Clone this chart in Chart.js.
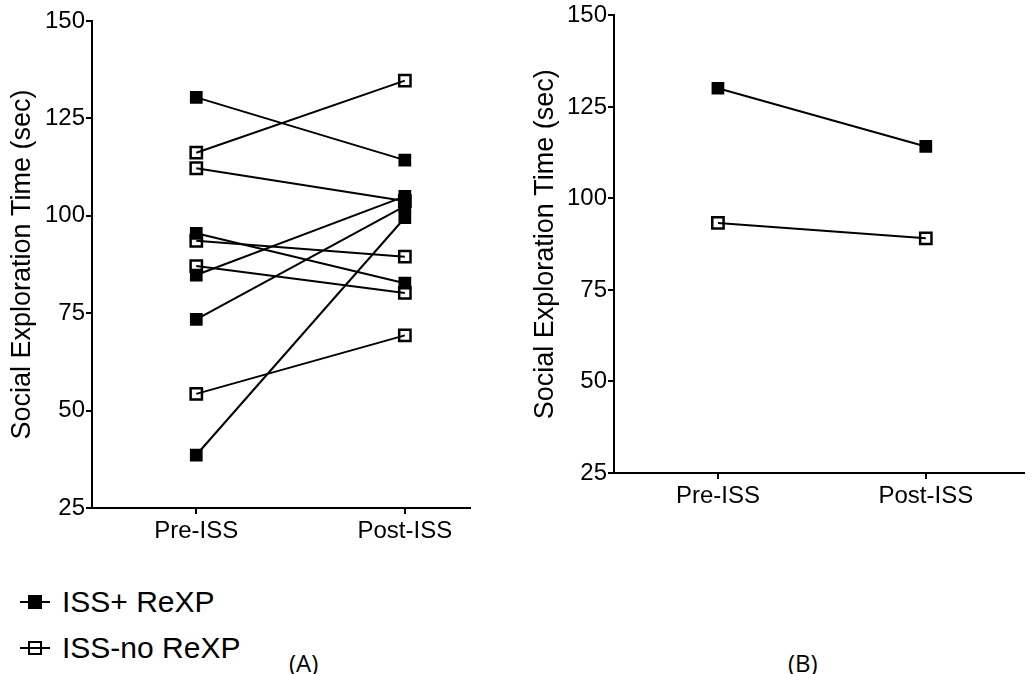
<!DOCTYPE html>
<html>
<head>
<meta charset="utf-8">
<script src="https://cdn.jsdelivr.net/npm/chart.js@4.4.1/dist/chart.umd.min.js"></script>
<style>
  body { margin: 0; background: #fff; width: 1034px; height: 674px; position: relative; overflow: hidden;
         font-family: 'Liberation Sans', Arial, sans-serif; }
  .box { position: absolute; top: 0; }
  .leg { position: absolute; left: 20px; height: 30px; font-size: 30px; line-height: 30px; color: #000; }
  .mk { position: absolute; left: 0; top: 14px; width: 30px; height: 2px; background: #000; }
  .mk span { position: absolute; left: 8px; top: -6px; width: 14px; height: 14px; box-sizing: border-box; }
  .leg .txt { position: absolute; left: 42px; top: 0; white-space: nowrap; }
  .tag { position: absolute; top: 646px; font-size: 24px; font-family: 'Open Sans', sans-serif; }
</style>
</head>
<body>
<div class="box" style="left:0;width:480px;height:560px"><canvas id="chartA"></canvas></div>
<div class="box" style="left:520px;width:514px;height:525px"><canvas id="chartB"></canvas></div>

<div class="leg" style="top:587px"><div class="mk"><span style="background:#000"></span></div><div class="txt">ISS+ ReXP</div></div>
<div class="leg" style="top:633px"><div class="mk"><span style="border:2.5px solid #000;background:transparent"></span></div><div class="txt">ISS-no ReXP</div></div>
<div class="tag" style="left:289px">(A)</div>
<div class="tag" style="left:788px">(B)</div>

<script>
// categories on the x axis
const timepoints = ['Pre-ISS', 'Post-ISS'];

// panel A: individual animals
const rexpPre  = [130.4, 95.5, 84.8, 73.4, 38.6];
const rexpPost = [114.3, 82.7, 105.0, 102.5, 99.5];
const noRexpPre  = [116.2, 112.2, 93.6, 87.1, 54.3];
const noRexpPost = [134.7, 103.8, 89.5, 80.2, 69.3];

// panel B: group values
const rexpGroup   = [130.1, 114.2];
const noRexpGroup = [93.3, 89.1];

const yTicks = [25, 50, 75, 100, 125, 150];

Chart.defaults.font.family = "'Liberation Sans', Arial, sans-serif";
Chart.defaults.color = '#000';

const tickFont = { size: 24 };

function pair(pre, post) {
    return [{ x: 1, y: pre }, { x: 2, y: post }];
}

function filledSet(data) {
    return {
        data: data,
        borderColor: '#000',
        borderWidth: 2,
        pointStyle: 'rect',
        pointRadius: 9,
        pointBackgroundColor: '#000',
        pointBorderColor: '#000',
        pointBorderWidth: 0,
        tension: 0,
    };
}

function openSet(data) {
    return {
        data: data,
        borderColor: '#000',
        borderWidth: 2,
        pointStyle: 'rect',
        pointRadius: 8,
        pointBackgroundColor: 'rgba(0,0,0,0)',
        pointBorderColor: '#000',
        pointBorderWidth: 2.5,
        tension: 0,
    };
}

function makeOptions(xMax, yWidth, titlePad) {
    return {
        responsive: true,
        maintainAspectRatio: false,
        animation: false,
        events: [],
        layout: { padding: { top: 15, right: 2, left: 0, bottom: 0 } },
        plugins: { legend: { display: false }, tooltip: { enabled: false } },
        scales: {
            x: {
                type: 'linear',
                min: 0.5,
                max: xMax,
                afterBuildTicks: (scale) => { scale.ticks = timepoints.map((_, i) => ({ value: i + 1 })); },
                afterFit: (scale) => { scale.height = 52; },
                ticks: {
                    callback: (v) => timepoints[v - 1],
                    font: tickFont,
                    padding: 3,
                    maxRotation: 0,
                },
                grid: { drawOnChartArea: false, drawTicks: true, tickLength: 6, color: '#000', lineWidth: 2 },
                border: { display: true, color: '#000', width: 2 },
            },
            y: {
                min: 25,
                max: 150,
                afterBuildTicks: (scale) => { scale.ticks = yTicks.map(v => ({ value: v })); },
                afterFit: (scale) => { scale.width = yWidth; },
                ticks: { font: tickFont, padding: 1 },
                grid: { drawOnChartArea: false, drawTicks: true, tickLength: 6, color: '#000', lineWidth: 2 },
                border: { display: true, color: '#000', width: 2 },
                title: {
                    display: true,
                    text: 'Social Exploration Time (sec)',
                    font: { size: 27 },
                    padding: { top: titlePad, bottom: 0 },
                },
            },
        },
    };
}

const setsA = [];
rexpPre.forEach((v, i) => setsA.push(filledSet(pair(v, rexpPost[i]))));
noRexpPre.forEach((v, i) => setsA.push(openSet(pair(v, noRexpPost[i]))));

const optsA = makeOptions(2.31, 92, 6);
optsA.layout.padding.top = 21;
optsA.layout.padding.right = 10;

new Chart(document.getElementById('chartA'), {
    type: 'line',
    data: { datasets: setsA },
    options: optsA,
});

new Chart(document.getElementById('chartB'), {
    type: 'line',
    data: {
        datasets: [
            filledSet(pair(rexpGroup[0], rexpGroup[1])),
            openSet(pair(noRexpGroup[0], noRexpGroup[1])),
        ],
    },
    options: makeOptions(2.47, 94, 9),
});
</script>
</body>
</html>
